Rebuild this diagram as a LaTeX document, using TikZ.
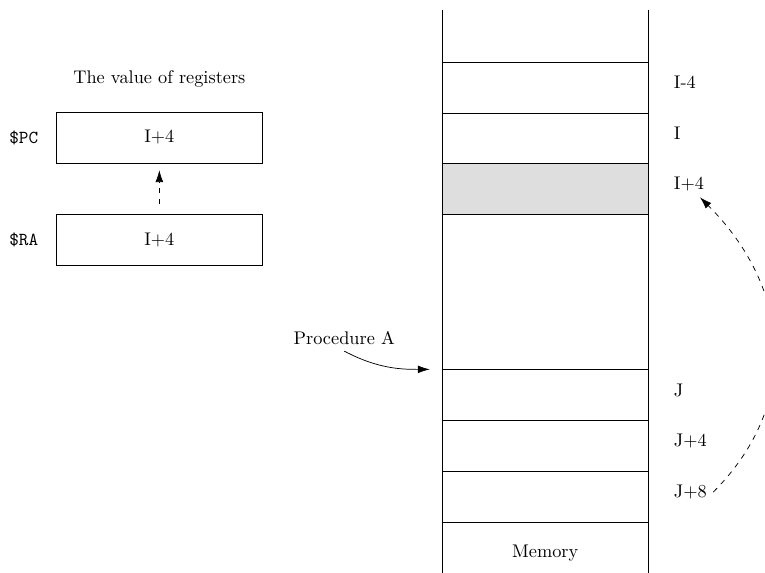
\documentclass[tikz,border=0pt]{standalone}
\usetikzlibrary{positioning,arrows.meta}

\begin{document}
\begin{tikzpicture}[>={Latex[length=2.3mm,width=1.5mm]},
      reg/.style={draw, minimum width=3.95cm, minimum height=0.98cm, inner sep=0pt},
      cell/.style={draw, minimum width=3.96cm, minimum height=0.98cm, inner sep=0pt},
      addr/.style={right=0.36cm of #1.east, yshift=0.1cm}]
      \clip (0,0) rectangle (14.69,11.0);
      % registers
      \node (title) at (3.06,9.49) {The value of registers};
      \node[reg] (pc) at (3.06,8.36) {I+4};
      \node[reg] (ra) at (3.06,6.39) {I+4};
      \node[left=0.22cm of pc] (pcname) {\texttt{\$PC}};
      \node[left=0.22cm of ra] (raname) {\texttt{\$RA}};
      \draw[dashed,->,shorten <=0.19cm,shorten >=0.13cm] (ra.north) -- (pc.south);
      % memory
      \coordinate (mtl) at (8.49,10.81);
      \coordinate (mbl) at (8.49,0);
      \coordinate (mtr) at (12.45,10.81);
      \coordinate (mbr) at (12.45,0);
      \draw (mtl) -- (mbl);
      \draw (mtr) -- (mbr);
      \node[cell] (im4) at (10.47,9.32) {};
      \node[cell] (i) at (10.47,8.34) {};
      \node[cell,fill=black!13] (ip4) at (10.47,7.37) {};
      \node[cell] (j) at (10.47,3.41) {};
      \node[cell] (jp4) at (10.47,2.43) {};
      \node[cell] (jp8) at (10.47,1.45) {};
      \node (memname) at (10.47,0.38) {Memory};
      \node[addr=im4] (im4lab) {I-4};
      \node[addr=i] (ilab) {I};
      \node[addr=ip4] (ip4lab) {I+4};
      \node[addr=j] (jlab) {J};
      \node[addr=jp4] (jp4lab) {J+4};
      \node[addr=jp8] (jp8lab) {J+8};
      % call and return
      \node (proc) at (6.61,4.51) {Procedure A};
      \draw[->,shorten >=0.23cm] (proc.south) to[out=-28,in=180] (j.north west);
      \draw[dashed,->] (jp8lab.east) to[out=45,in=-45,looseness=1.1] ([xshift=-0.2cm]ip4lab.south east);
\end{tikzpicture}
\end{document}
